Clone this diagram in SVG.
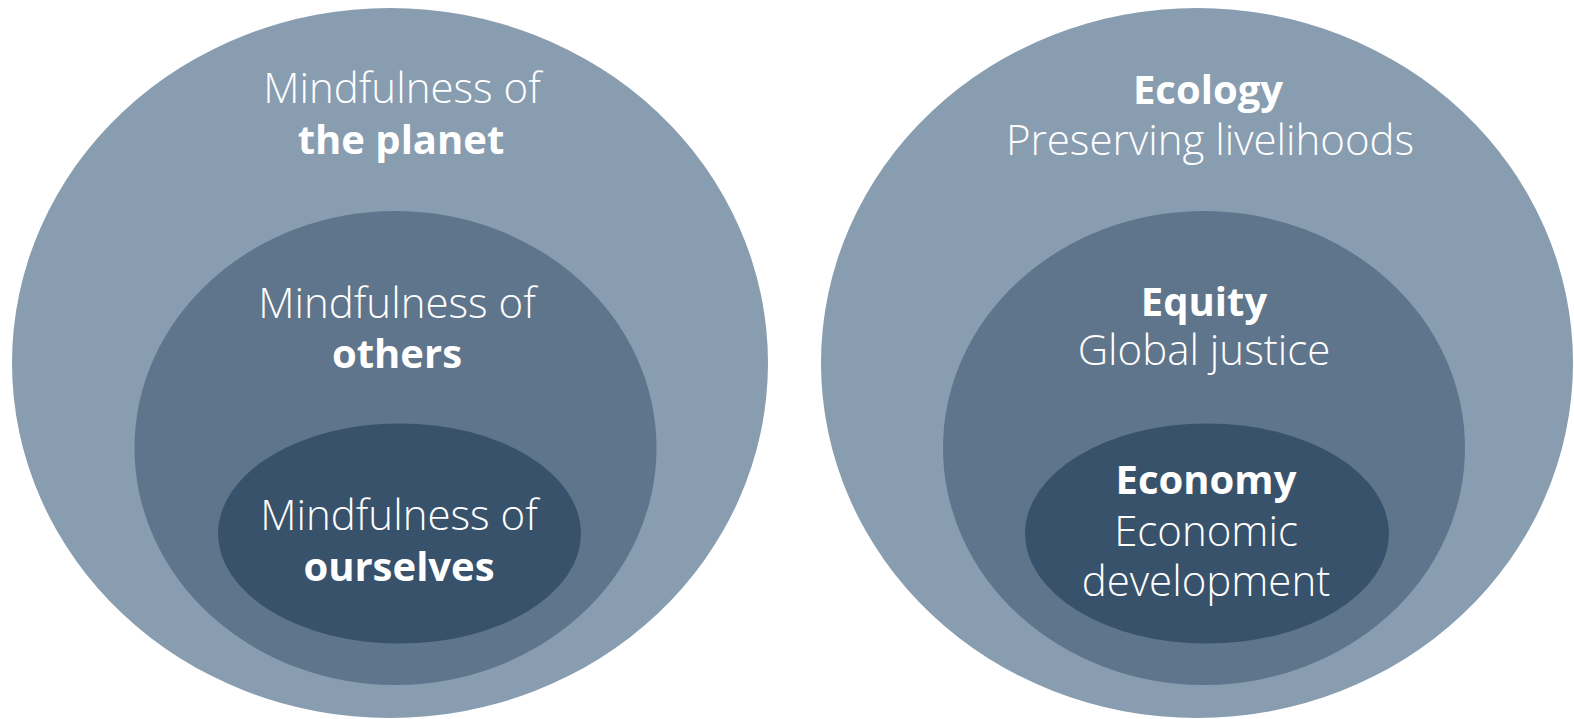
<svg xmlns="http://www.w3.org/2000/svg" width="1574" height="719" viewBox="0 0 1574 719">
<style>
.o{fill:#889DB0}
.m{fill:#5F758B}
.i{fill:#38526B}
text{font-family:"Open Sans","Noto Sans","Liberation Sans",sans-serif;fill:#fff;text-anchor:middle}
.l{font-weight:300;font-size:42px}
.b{font-weight:700;font-size:40px}
</style>
<rect width="1574" height="719" fill="#fff"/>
<g id="left-planet">
<ellipse class="o" cx="390" cy="363" rx="378" ry="355"/>
<text x="402" y="103" class="l">Mindfulness of</text>
<text x="401" y="154" class="b">the planet</text>
</g>
<g id="left-others">
<ellipse class="m" cx="395.5" cy="448" rx="261" ry="237"/>
<text x="397" y="318" class="l">Mindfulness of</text>
<text x="397" y="368" class="b">others</text>
</g>
<g id="left-ourselves">
<ellipse class="i" cx="399.5" cy="533.5" rx="181.5" ry="110"/>
<text x="399" y="530" class="l">Mindfulness of</text>
<text x="399" y="581" class="b">ourselves</text>
</g>
<g id="right-ecology">
<ellipse class="o" cx="1197" cy="363" rx="376" ry="355"/>
<text x="1208" y="104" class="b">Ecology</text>
<text x="1210" y="155" class="l">Preserving livelihoods</text>
</g>
<g id="right-equity">
<ellipse class="m" cx="1204" cy="448" rx="261" ry="237"/>
<text x="1204" y="316" class="b">Equity</text>
<text x="1204" y="365" class="l">Global justice</text>
</g>
<g id="right-economy">
<ellipse class="i" cx="1207" cy="533.5" rx="182" ry="110"/>
<text x="1206" y="494" class="b">Economy</text>
<text x="1206" y="546" class="l">Economic</text>
<text x="1206" y="596" class="l">development</text>
</g>
<g id="connectors"/>
</svg>
